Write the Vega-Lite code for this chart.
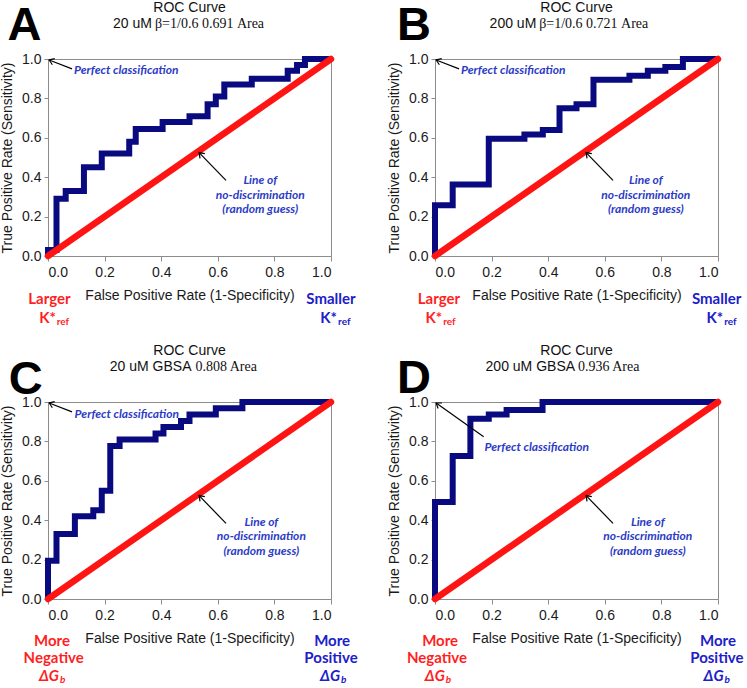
{
  "$schema": "https://vega.github.io/schema/vega-lite/v6.json",
  "padding": 0,
  "background": "white",
  "columns": 2,
  "spacing": {"row": 146, "column": 104},
  "bounds": "flush",
  "datasets": {
    "diag": [{"x": 0, "y": 0}, {"x": 1, "y": 1}],
    "curveA": [{"i":0,"x":0,"y":0},{"i":1,"x":0,"y":0.03},{"i":2,"x":0.03,"y":0.29},{"i":3,"x":0.0625,"y":0.33},{"i":4,"x":0.127,"y":0.45},{"i":5,"x":0.19,"y":0.52},{"i":6,"x":0.287,"y":0.58},{"i":7,"x":0.31,"y":0.645},{"i":8,"x":0.405,"y":0.68},{"i":9,"x":0.5,"y":0.71},{"i":10,"x":0.564,"y":0.77},{"i":11,"x":0.593,"y":0.81},{"i":12,"x":0.623,"y":0.87},{"i":13,"x":0.72,"y":0.9},{"i":14,"x":0.847,"y":0.94},{"i":15,"x":0.88,"y":0.97},{"i":16,"x":0.908,"y":1},{"i":17,"x":1,"y":1}],
    "curveB": [{"i":0,"x":0,"y":0},{"i":1,"x":0,"y":0.257},{"i":2,"x":0.0625,"y":0.363},{"i":3,"x":0.19,"y":0.595},{"i":4,"x":0.316,"y":0.617},{"i":5,"x":0.381,"y":0.64},{"i":6,"x":0.44,"y":0.75},{"i":7,"x":0.5,"y":0.77},{"i":8,"x":0.56,"y":0.895},{"i":9,"x":0.687,"y":0.915},{"i":10,"x":0.752,"y":0.94},{"i":11,"x":0.814,"y":0.96},{"i":12,"x":0.876,"y":1},{"i":13,"x":1,"y":1}],
    "curveC": [{"i":0,"x":0,"y":0},{"i":1,"x":0,"y":0.194},{"i":2,"x":0.03,"y":0.33},{"i":3,"x":0.095,"y":0.42},{"i":4,"x":0.16,"y":0.45},{"i":5,"x":0.19,"y":0.55},{"i":6,"x":0.22,"y":0.777},{"i":7,"x":0.253,"y":0.81},{"i":8,"x":0.38,"y":0.84},{"i":9,"x":0.408,"y":0.873},{"i":10,"x":0.47,"y":0.904},{"i":11,"x":0.5,"y":0.937},{"i":12,"x":0.593,"y":0.968},{"i":13,"x":0.687,"y":1},{"i":14,"x":1,"y":1}],
    "curveD": [{"i":0,"x":0,"y":0},{"i":1,"x":0,"y":0.493},{"i":2,"x":0.0625,"y":0.726},{"i":3,"x":0.125,"y":0.915},{"i":4,"x":0.19,"y":0.937},{"i":5,"x":0.253,"y":0.96},{"i":6,"x":0.38,"y":1},{"i":7,"x":1,"y":1}],
    "arrABC": [{"a":1,"x":0.085,"y":0.95},{"a":1,"x":0.004,"y":0.995},{"a":2,"x":0.629,"y":0.384},{"a":2,"x":0.534,"y":0.525}],
    "arrD": [{"a":1,"x":0.172,"y":0.824},{"a":1,"x":0.004,"y":0.995},{"a":2,"x":0.629,"y":0.384},{"a":2,"x":0.534,"y":0.525}],
    "tA": [
      {"k":"title","x":0.5,"y":1.258,"t":"ROC Curve"},
      {"k":"sans","x":0.367,"y":1.177,"t":"20 uM"},
      {"k":"serif","x":0.378,"y":1.177,"t":"β=1/0.6 0.691 Area"},
      {"k":"letter","x":-0.083,"y":1.096,"t":"A"},
      {"k":"perfect","x":0.092,"y":0.944,"t":"Perfect classification"},
      {"k":"line","x":0.75,"y":0.384,"t":"Line of\nno-discrimination\n(random guess)"},
      {"k":"h1","x":0.004,"y":0.995},
      {"k":"h2","x":0.534,"y":0.525},
      {"k":"main","x":0.005,"y":-0.217,"t":"Larger"},
      {"k":"main","x":1.0,"y":-0.217,"t":"Smaller"},
      {"k":"base","x":0.028,"y":-0.313,"t":"K*"},
      {"k":"base","x":1.021,"y":-0.313,"t":"K*"},
      {"k":"sub","x":0.031,"y":-0.335,"t":"ref"},
      {"k":"sub","x":1.025,"y":-0.335,"t":"ref"}
    ],
    "tB": [
      {"k":"title","x":0.5,"y":1.258,"t":"ROC Curve"},
      {"k":"sans","x":0.358,"y":1.177,"t":"200 uM"},
      {"k":"serif","x":0.368,"y":1.177,"t":"β=1/0.6 0.721 Area"},
      {"k":"letter","x":-0.074,"y":1.096,"t":"B"},
      {"k":"perfect","x":0.092,"y":0.944,"t":"Perfect classification"},
      {"k":"line","x":0.745,"y":0.384,"t":"Line of\nno-discrimination\n(random guess)"},
      {"k":"h1","x":0.004,"y":0.995},
      {"k":"h2","x":0.534,"y":0.525},
      {"k":"main","x":0.014,"y":-0.217,"t":"Larger"},
      {"k":"main","x":0.995,"y":-0.217,"t":"Smaller"},
      {"k":"base","x":0.025,"y":-0.313,"t":"K*"},
      {"k":"base","x":1.018,"y":-0.313,"t":"K*"},
      {"k":"sub","x":0.029,"y":-0.335,"t":"ref"},
      {"k":"sub","x":1.022,"y":-0.335,"t":"ref"}
    ],
    "tC": [
      {"k":"title","x":0.5,"y":1.258,"t":"ROC Curve"},
      {"k":"sans","x":0.507,"y":1.177,"t":"20 uM GBSA"},
      {"k":"serif","x":0.521,"y":1.177,"t":"0.808 Area"},
      {"k":"letter","x":-0.079,"y":1.04,"t":"C"},
      {"k":"perfect","x":0.094,"y":0.94,"t":"Perfect classification"},
      {"k":"line","x":0.754,"y":0.392,"t":"Line of\nno-discrimination\n(random guess)"},
      {"k":"h1","x":0.004,"y":0.995},
      {"k":"h2","x":0.534,"y":0.525},
      {"k":"main","x":0.014,"y":-0.211,"t":"More"},
      {"k":"main","x":0.02,"y":-0.3,"t":"Negative"},
      {"k":"main","x":1.004,"y":-0.211,"t":"More"},
      {"k":"main","x":1.0,"y":-0.3,"t":"Positive"},
      {"k":"base","x":0.039,"y":-0.392,"t":"ΔG"},
      {"k":"base","x":1.032,"y":-0.392,"t":"ΔG"},
      {"k":"sub","x":0.042,"y":-0.41,"t":"b"},
      {"k":"sub","x":1.035,"y":-0.41,"t":"b"}
    ],
    "tD": [
      {"k":"title","x":0.5,"y":1.258,"t":"ROC Curve"},
      {"k":"sans","x":0.495,"y":1.177,"t":"200 uM GBSA"},
      {"k":"serif","x":0.505,"y":1.177,"t":"0.936 Area"},
      {"k":"letter","x":-0.074,"y":1.048,"t":"D"},
      {"k":"perfect","x":0.175,"y":0.77,"t":"Perfect classification"},
      {"k":"line","x":0.752,"y":0.392,"t":"Line of\nno-discrimination\n(random guess)"},
      {"k":"h1","x":0.004,"y":0.995},
      {"k":"h2","x":0.534,"y":0.525},
      {"k":"main","x":0.018,"y":-0.211,"t":"More"},
      {"k":"main","x":0.007,"y":-0.3,"t":"Negative"},
      {"k":"main","x":1.0,"y":-0.211,"t":"More"},
      {"k":"main","x":0.996,"y":-0.3,"t":"Positive"},
      {"k":"base","x":0.035,"y":-0.392,"t":"ΔG"},
      {"k":"base","x":1.02,"y":-0.392,"t":"ΔG"},
      {"k":"sub","x":0.038,"y":-0.41,"t":"b"},
      {"k":"sub","x":1.023,"y":-0.41,"t":"b"}
    ]
  },
  "concat": [
    {
      "width": 283, "height": 197,
      "data": {"name": "tA"},
      "encoding": {
        "x": {"field": "x", "type": "quantitative", "scale": {"domain": [0, 1], "nice": false}, "axis": {"title": "False Positive Rate (1-Specificity)", "values": [0, 0.2, 0.4, 0.6, 0.8, 1], "format": ".1f"}},
        "y": {"field": "y", "type": "quantitative", "scale": {"domain": [0, 1], "nice": false}, "axis": {"title": "True Positive Rate (Sensitivity)", "values": [0, 0.2, 0.4, 0.6, 0.8, 1], "format": ".1f"}}
      },
      "layer": [
        {"data": {"name": "curveA"}, "mark": {"type": "line", "interpolate": "step-after", "color": "#0A0A80", "strokeWidth": 6}, "encoding": {"order": {"field": "i", "type": "quantitative"}}},
        {"data": {"name": "diag"}, "mark": {"type": "line", "color": "#FF1414", "strokeWidth": 6.5, "strokeCap": "round"}, "encoding": {}},
        {"data": {"name": "arrABC"}, "mark": {"type": "line", "color": "#000000", "strokeWidth": 1.2}, "encoding": {"detail": {"field": "a", "type": "nominal"}}},
        {"transform": [{"filter": "datum.k==='h1'"}], "mark": {"type": "point", "shape": "M-0.7,1L0,0L0.7,1", "filled": false, "stroke": "#000000", "strokeWidth": 1.2, "size": 90, "angle": 291, "opacity": 1}, "encoding": {}},
        {"transform": [{"filter": "datum.k==='h2'"}], "mark": {"type": "point", "shape": "M-0.7,1L0,0L0.7,1", "filled": false, "stroke": "#000000", "strokeWidth": 1.2, "size": 90, "angle": 316, "opacity": 1}, "encoding": {}},
        {"transform": [{"filter": "datum.k==='title'"}], "mark": {"type": "text", "font": "Liberation Sans", "fontSize": 14, "color": "#111111", "align": "center", "baseline": "middle"}, "encoding": {"text": {"field": "t", "type": "nominal"}}},
        {"transform": [{"filter": "datum.k==='sans'"}], "mark": {"type": "text", "font": "Liberation Sans", "fontSize": 14, "color": "#111111", "align": "right", "baseline": "middle"}, "encoding": {"text": {"field": "t", "type": "nominal"}}},
        {"transform": [{"filter": "datum.k==='serif'"}], "mark": {"type": "text", "font": "Liberation Serif", "fontSize": 14, "color": "#111111", "align": "left", "baseline": "middle"}, "encoding": {"text": {"field": "t", "type": "nominal"}}},
        {"transform": [{"filter": "datum.k==='letter'"}], "mark": {"type": "text", "font": "Liberation Sans", "fontSize": 47, "fontWeight": "bold", "color": "#000000", "align": "center", "baseline": "alphabetic"}, "encoding": {"text": {"field": "t", "type": "nominal"}}},
        {"transform": [{"filter": "datum.k==='perfect'"}], "mark": {"type": "text", "font": "Lato", "fontSize": 12, "fontWeight": "bold", "fontStyle": "italic", "color": "#2B3BC6", "align": "left", "baseline": "middle"}, "encoding": {"text": {"field": "t", "type": "nominal"}}},
        {"transform": [{"filter": "datum.k==='line'"}], "mark": {"type": "text", "font": "Lato", "fontSize": 12, "fontWeight": "bold", "fontStyle": "italic", "color": "#2B3BC6", "align": "center", "baseline": "middle", "lineBreak": "\n", "lineHeight": 14.5}, "encoding": {"text": {"field": "t", "type": "nominal"}}},
        {"transform": [{"filter": "datum.k==='main'"}], "mark": {"type": "text", "font": "Lato", "fontSize": 15, "fontWeight": "bold", "align": "center", "baseline": "middle"}, "encoding": {"text": {"field": "t", "type": "nominal"}, "color": {"condition": {"test": "datum.x < 0.5", "value": "#FF1F1F"}, "value": "#2020C8"}}},
        {"transform": [{"filter": "datum.k==='base'"}], "mark": {"type": "text", "font": "Lato", "fontSize": 15, "fontWeight": "bold", "align": "right", "baseline": "middle"}, "encoding": {"text": {"field": "t", "type": "nominal"}, "color": {"condition": {"test": "datum.x < 0.5", "value": "#FF1F1F"}, "value": "#2020C8"}}},
        {"transform": [{"filter": "datum.k==='sub'"}], "mark": {"type": "text", "font": "Lato", "fontSize": 10, "fontWeight": "bold", "align": "left", "baseline": "middle"}, "encoding": {"text": {"field": "t", "type": "nominal"}, "color": {"condition": {"test": "datum.x < 0.5", "value": "#FF1F1F"}, "value": "#2020C8"}}}
      ]
    },
    {
      "width": 283, "height": 197,
      "data": {"name": "tB"},
      "encoding": {
        "x": {"field": "x", "type": "quantitative", "scale": {"domain": [0, 1], "nice": false}, "axis": {"title": "False Positive Rate (1-Specificity)", "values": [0, 0.2, 0.4, 0.6, 0.8, 1], "format": ".1f"}},
        "y": {"field": "y", "type": "quantitative", "scale": {"domain": [0, 1], "nice": false}, "axis": {"title": "True Positive Rate (Sensitivity)", "values": [0, 0.2, 0.4, 0.6, 0.8, 1], "format": ".1f"}}
      },
      "layer": [
        {"data": {"name": "curveB"}, "mark": {"type": "line", "interpolate": "step-after", "color": "#0A0A80", "strokeWidth": 6}, "encoding": {"order": {"field": "i", "type": "quantitative"}}},
        {"data": {"name": "diag"}, "mark": {"type": "line", "color": "#FF1414", "strokeWidth": 6.5, "strokeCap": "round"}, "encoding": {}},
        {"data": {"name": "arrABC"}, "mark": {"type": "line", "color": "#000000", "strokeWidth": 1.2}, "encoding": {"detail": {"field": "a", "type": "nominal"}}},
        {"transform": [{"filter": "datum.k==='h1'"}], "mark": {"type": "point", "shape": "M-0.7,1L0,0L0.7,1", "filled": false, "stroke": "#000000", "strokeWidth": 1.2, "size": 90, "angle": 291, "opacity": 1}, "encoding": {}},
        {"transform": [{"filter": "datum.k==='h2'"}], "mark": {"type": "point", "shape": "M-0.7,1L0,0L0.7,1", "filled": false, "stroke": "#000000", "strokeWidth": 1.2, "size": 90, "angle": 316, "opacity": 1}, "encoding": {}},
        {"transform": [{"filter": "datum.k==='title'"}], "mark": {"type": "text", "font": "Liberation Sans", "fontSize": 14, "color": "#111111", "align": "center", "baseline": "middle"}, "encoding": {"text": {"field": "t", "type": "nominal"}}},
        {"transform": [{"filter": "datum.k==='sans'"}], "mark": {"type": "text", "font": "Liberation Sans", "fontSize": 14, "color": "#111111", "align": "right", "baseline": "middle"}, "encoding": {"text": {"field": "t", "type": "nominal"}}},
        {"transform": [{"filter": "datum.k==='serif'"}], "mark": {"type": "text", "font": "Liberation Serif", "fontSize": 14, "color": "#111111", "align": "left", "baseline": "middle"}, "encoding": {"text": {"field": "t", "type": "nominal"}}},
        {"transform": [{"filter": "datum.k==='letter'"}], "mark": {"type": "text", "font": "Liberation Sans", "fontSize": 47, "fontWeight": "bold", "color": "#000000", "align": "center", "baseline": "alphabetic"}, "encoding": {"text": {"field": "t", "type": "nominal"}}},
        {"transform": [{"filter": "datum.k==='perfect'"}], "mark": {"type": "text", "font": "Lato", "fontSize": 12, "fontWeight": "bold", "fontStyle": "italic", "color": "#2B3BC6", "align": "left", "baseline": "middle"}, "encoding": {"text": {"field": "t", "type": "nominal"}}},
        {"transform": [{"filter": "datum.k==='line'"}], "mark": {"type": "text", "font": "Lato", "fontSize": 12, "fontWeight": "bold", "fontStyle": "italic", "color": "#2B3BC6", "align": "center", "baseline": "middle", "lineBreak": "\n", "lineHeight": 14.5}, "encoding": {"text": {"field": "t", "type": "nominal"}}},
        {"transform": [{"filter": "datum.k==='main'"}], "mark": {"type": "text", "font": "Lato", "fontSize": 15, "fontWeight": "bold", "align": "center", "baseline": "middle"}, "encoding": {"text": {"field": "t", "type": "nominal"}, "color": {"condition": {"test": "datum.x < 0.5", "value": "#FF1F1F"}, "value": "#2020C8"}}},
        {"transform": [{"filter": "datum.k==='base'"}], "mark": {"type": "text", "font": "Lato", "fontSize": 15, "fontWeight": "bold", "align": "right", "baseline": "middle"}, "encoding": {"text": {"field": "t", "type": "nominal"}, "color": {"condition": {"test": "datum.x < 0.5", "value": "#FF1F1F"}, "value": "#2020C8"}}},
        {"transform": [{"filter": "datum.k==='sub'"}], "mark": {"type": "text", "font": "Lato", "fontSize": 10, "fontWeight": "bold", "align": "left", "baseline": "middle"}, "encoding": {"text": {"field": "t", "type": "nominal"}, "color": {"condition": {"test": "datum.x < 0.5", "value": "#FF1F1F"}, "value": "#2020C8"}}}
      ]
    },
    {
      "width": 283, "height": 197,
      "data": {"name": "tC"},
      "encoding": {
        "x": {"field": "x", "type": "quantitative", "scale": {"domain": [0, 1], "nice": false}, "axis": {"title": "False Positive Rate (1-Specificity)", "values": [0, 0.2, 0.4, 0.6, 0.8, 1], "format": ".1f"}},
        "y": {"field": "y", "type": "quantitative", "scale": {"domain": [0, 1], "nice": false}, "axis": {"title": "True Positive Rate (Sensitivity)", "values": [0, 0.2, 0.4, 0.6, 0.8, 1], "format": ".1f"}}
      },
      "layer": [
        {"data": {"name": "curveC"}, "mark": {"type": "line", "interpolate": "step-after", "color": "#0A0A80", "strokeWidth": 6}, "encoding": {"order": {"field": "i", "type": "quantitative"}}},
        {"data": {"name": "diag"}, "mark": {"type": "line", "color": "#FF1414", "strokeWidth": 6.5, "strokeCap": "round"}, "encoding": {}},
        {"data": {"name": "arrABC"}, "mark": {"type": "line", "color": "#000000", "strokeWidth": 1.2}, "encoding": {"detail": {"field": "a", "type": "nominal"}}},
        {"transform": [{"filter": "datum.k==='h1'"}], "mark": {"type": "point", "shape": "M-0.7,1L0,0L0.7,1", "filled": false, "stroke": "#000000", "strokeWidth": 1.2, "size": 90, "angle": 291, "opacity": 1}, "encoding": {}},
        {"transform": [{"filter": "datum.k==='h2'"}], "mark": {"type": "point", "shape": "M-0.7,1L0,0L0.7,1", "filled": false, "stroke": "#000000", "strokeWidth": 1.2, "size": 90, "angle": 316, "opacity": 1}, "encoding": {}},
        {"transform": [{"filter": "datum.k==='title'"}], "mark": {"type": "text", "font": "Liberation Sans", "fontSize": 14, "color": "#111111", "align": "center", "baseline": "middle"}, "encoding": {"text": {"field": "t", "type": "nominal"}}},
        {"transform": [{"filter": "datum.k==='sans'"}], "mark": {"type": "text", "font": "Liberation Sans", "fontSize": 14, "color": "#111111", "align": "right", "baseline": "middle"}, "encoding": {"text": {"field": "t", "type": "nominal"}}},
        {"transform": [{"filter": "datum.k==='serif'"}], "mark": {"type": "text", "font": "Liberation Serif", "fontSize": 14, "color": "#111111", "align": "left", "baseline": "middle"}, "encoding": {"text": {"field": "t", "type": "nominal"}}},
        {"transform": [{"filter": "datum.k==='letter'"}], "mark": {"type": "text", "font": "Liberation Sans", "fontSize": 47, "fontWeight": "bold", "color": "#000000", "align": "center", "baseline": "alphabetic"}, "encoding": {"text": {"field": "t", "type": "nominal"}}},
        {"transform": [{"filter": "datum.k==='perfect'"}], "mark": {"type": "text", "font": "Lato", "fontSize": 12, "fontWeight": "bold", "fontStyle": "italic", "color": "#2B3BC6", "align": "left", "baseline": "middle"}, "encoding": {"text": {"field": "t", "type": "nominal"}}},
        {"transform": [{"filter": "datum.k==='line'"}], "mark": {"type": "text", "font": "Lato", "fontSize": 12, "fontWeight": "bold", "fontStyle": "italic", "color": "#2B3BC6", "align": "center", "baseline": "middle", "lineBreak": "\n", "lineHeight": 14.5}, "encoding": {"text": {"field": "t", "type": "nominal"}}},
        {"transform": [{"filter": "datum.k==='main'"}], "mark": {"type": "text", "font": "Lato", "fontSize": 15, "fontWeight": "bold", "align": "center", "baseline": "middle"}, "encoding": {"text": {"field": "t", "type": "nominal"}, "color": {"condition": {"test": "datum.x < 0.5", "value": "#FF1F1F"}, "value": "#2020C8"}}},
        {"transform": [{"filter": "datum.k==='base'"}], "mark": {"type": "text", "font": "Lato", "fontSize": 15, "fontWeight": "bold", "fontStyle": "italic", "align": "right", "baseline": "middle"}, "encoding": {"text": {"field": "t", "type": "nominal"}, "color": {"condition": {"test": "datum.x < 0.5", "value": "#FF1F1F"}, "value": "#2020C8"}}},
        {"transform": [{"filter": "datum.k==='sub'"}], "mark": {"type": "text", "font": "Lato", "fontSize": 10, "fontWeight": "bold", "fontStyle": "italic", "align": "left", "baseline": "middle"}, "encoding": {"text": {"field": "t", "type": "nominal"}, "color": {"condition": {"test": "datum.x < 0.5", "value": "#FF1F1F"}, "value": "#2020C8"}}}
      ]
    },
    {
      "width": 283, "height": 197,
      "data": {"name": "tD"},
      "encoding": {
        "x": {"field": "x", "type": "quantitative", "scale": {"domain": [0, 1], "nice": false}, "axis": {"title": "False Positive Rate (1-Specificity)", "values": [0, 0.2, 0.4, 0.6, 0.8, 1], "format": ".1f"}},
        "y": {"field": "y", "type": "quantitative", "scale": {"domain": [0, 1], "nice": false}, "axis": {"title": "True Positive Rate (Sensitivity)", "values": [0, 0.2, 0.4, 0.6, 0.8, 1], "format": ".1f"}}
      },
      "layer": [
        {"data": {"name": "curveD"}, "mark": {"type": "line", "interpolate": "step-after", "color": "#0A0A80", "strokeWidth": 6}, "encoding": {"order": {"field": "i", "type": "quantitative"}}},
        {"data": {"name": "diag"}, "mark": {"type": "line", "color": "#FF1414", "strokeWidth": 6.5, "strokeCap": "round"}, "encoding": {}},
        {"data": {"name": "arrD"}, "mark": {"type": "line", "color": "#000000", "strokeWidth": 1.2}, "encoding": {"detail": {"field": "a", "type": "nominal"}}},
        {"transform": [{"filter": "datum.k==='h1'"}], "mark": {"type": "point", "shape": "M-0.7,1L0,0L0.7,1", "filled": false, "stroke": "#000000", "strokeWidth": 1.2, "size": 90, "angle": 305, "opacity": 1}, "encoding": {}},
        {"transform": [{"filter": "datum.k==='h2'"}], "mark": {"type": "point", "shape": "M-0.7,1L0,0L0.7,1", "filled": false, "stroke": "#000000", "strokeWidth": 1.2, "size": 90, "angle": 316, "opacity": 1}, "encoding": {}},
        {"transform": [{"filter": "datum.k==='title'"}], "mark": {"type": "text", "font": "Liberation Sans", "fontSize": 14, "color": "#111111", "align": "center", "baseline": "middle"}, "encoding": {"text": {"field": "t", "type": "nominal"}}},
        {"transform": [{"filter": "datum.k==='sans'"}], "mark": {"type": "text", "font": "Liberation Sans", "fontSize": 14, "color": "#111111", "align": "right", "baseline": "middle"}, "encoding": {"text": {"field": "t", "type": "nominal"}}},
        {"transform": [{"filter": "datum.k==='serif'"}], "mark": {"type": "text", "font": "Liberation Serif", "fontSize": 14, "color": "#111111", "align": "left", "baseline": "middle"}, "encoding": {"text": {"field": "t", "type": "nominal"}}},
        {"transform": [{"filter": "datum.k==='letter'"}], "mark": {"type": "text", "font": "Liberation Sans", "fontSize": 47, "fontWeight": "bold", "color": "#000000", "align": "center", "baseline": "alphabetic"}, "encoding": {"text": {"field": "t", "type": "nominal"}}},
        {"transform": [{"filter": "datum.k==='perfect'"}], "mark": {"type": "text", "font": "Lato", "fontSize": 12, "fontWeight": "bold", "fontStyle": "italic", "color": "#2B3BC6", "align": "left", "baseline": "middle"}, "encoding": {"text": {"field": "t", "type": "nominal"}}},
        {"transform": [{"filter": "datum.k==='line'"}], "mark": {"type": "text", "font": "Lato", "fontSize": 12, "fontWeight": "bold", "fontStyle": "italic", "color": "#2B3BC6", "align": "center", "baseline": "middle", "lineBreak": "\n", "lineHeight": 14.5}, "encoding": {"text": {"field": "t", "type": "nominal"}}},
        {"transform": [{"filter": "datum.k==='main'"}], "mark": {"type": "text", "font": "Lato", "fontSize": 15, "fontWeight": "bold", "align": "center", "baseline": "middle"}, "encoding": {"text": {"field": "t", "type": "nominal"}, "color": {"condition": {"test": "datum.x < 0.5", "value": "#FF1F1F"}, "value": "#2020C8"}}},
        {"transform": [{"filter": "datum.k==='base'"}], "mark": {"type": "text", "font": "Lato", "fontSize": 15, "fontWeight": "bold", "fontStyle": "italic", "align": "right", "baseline": "middle"}, "encoding": {"text": {"field": "t", "type": "nominal"}, "color": {"condition": {"test": "datum.x < 0.5", "value": "#FF1F1F"}, "value": "#2020C8"}}},
        {"transform": [{"filter": "datum.k==='sub'"}], "mark": {"type": "text", "font": "Lato", "fontSize": 10, "fontWeight": "bold", "fontStyle": "italic", "align": "left", "baseline": "middle"}, "encoding": {"text": {"field": "t", "type": "nominal"}, "color": {"condition": {"test": "datum.x < 0.5", "value": "#FF1F1F"}, "value": "#2020C8"}}}
      ]
    }
  ],
  "config": {
    "view": {"stroke": "#8c8c8c", "strokeWidth": 1},
    "axis": {"grid": false, "domainColor": "#8c8c8c", "tickColor": "#8c8c8c", "domainWidth": 1, "tickWidth": 1, "labelFont": "Liberation Sans", "labelFontSize": 14, "labelColor": "#1a1a1a", "titleFont": "Liberation Sans", "titleFontSize": 14, "titleFontWeight": "normal", "titleColor": "#1a1a1a"},
    "axisX": {"tickSize": 5, "labelPadding": 4, "titlePadding": 9},
    "axisY": {"tickSize": 4, "labelPadding": 3, "titlePadding": 7}
  }
}
